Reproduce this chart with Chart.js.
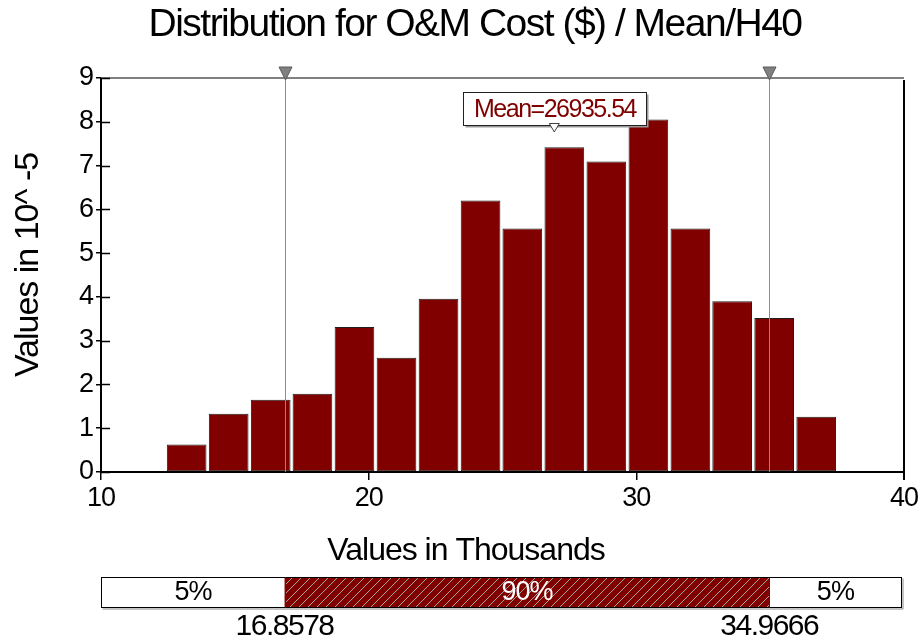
<!DOCTYPE html>
<html>
<head>
<meta charset="utf-8">
<title>Distribution for O&amp;M Cost ($) / Mean/H40</title>
<script src="https://cdn.jsdelivr.net/npm/chart.js@4.4.0/dist/chart.umd.min.js"></script>
<style>
  html, body { margin: 0; padding: 0; background: #fff; }
  canvas { display: block; }
</style>
</head>
<body>
<canvas id="chart" width="924" height="642"></canvas>
<script>
// histogram data (x in thousands, y in 10^-5)
var binCenters = [13.20, 14.77, 16.34, 17.90, 19.47, 21.04, 22.61, 24.18,
                  25.74, 27.31, 28.88, 30.45, 32.02, 33.58, 35.15, 36.72];
var density = [0.63, 1.33, 1.65, 1.79, 3.31, 2.61, 3.96, 6.20,
               5.56, 7.42, 7.09, 8.05, 5.56, 3.90, 3.52, 1.26];
var xTicks = [10, 20, 30, 40];
var yTicks = [0, 1, 2, 3, 4, 5, 6, 7, 8, 9];
var pctLow = 16.8578;
var pctHigh = 34.9666;
var meanValue = 26935.54;
var bandLabels = ["5%", "90%", "5%"];

var FONT = "'Liberation Sans', Arial, sans-serif";
var darkRed = "#800000";

var points = binCenters.map(function (c, i) { return { x: c, y: density[i] }; });

// lijntje tekenen
function line(ctx, x1, y1, x2, y2) {
  ctx.beginPath();
  ctx.moveTo(x1, y1);
  ctx.lineTo(x2, y2);
  ctx.stroke();
}

// tekst met iets smallere letters, zoals in het origineel
function text(ctx, str, x, y, size, spacing, color) {
  ctx.font = size + "px " + FONT;
  ctx.letterSpacing = spacing + "px";
  ctx.fillStyle = color;
  ctx.fillText(str, x, y);
}

// alles wat chart.js zelf niet tekent: titels, kader, percentiel lijnen, mean label, band onderaan
var overlay = {
  id: "overlay",
  beforeDraw: function (chart) {
    // tick labels ook wat smaller
    chart.ctx.letterSpacing = "-1px";
  },
  afterDraw: function (chart) {
    var ctx = chart.ctx;
    var a = chart.chartArea;
    var x = chart.scales.x;
    var y = chart.scales.y;
    ctx.save();
    ctx.textAlign = "center";
    ctx.textBaseline = "middle";

    // titel en as titels
    text(ctx, "Distribution for O&M Cost ($) / Mean/H40", 475, 25, 39, -1.5, "#000");
    text(ctx, "Values in Thousands", 466, 551, 32, -1, "#000");
    ctx.save();
    ctx.translate(29, 265);
    ctx.rotate(-Math.PI / 2);
    text(ctx, "Values in 10^ -5", 0, 0, 34, -1, "#000");
    ctx.restore();

    // kader boven en rechts
    ctx.lineWidth = 2;
    ctx.strokeStyle = "#808080";
    line(ctx, a.left, a.top, a.right, a.top);
    ctx.strokeStyle = "#000";
    line(ctx, a.right, a.top + 2, a.right, a.bottom + 8);

    // tick streepjes binnen de plot
    ctx.lineWidth = 1.5;
    yTicks.forEach(function (v) {
      var py = Math.round(y.getPixelForValue(v)) + 0.5;
      line(ctx, a.left, py, a.left + 9, py);
    });

    // percentiel lijnen met driehoekjes
    [pctLow, pctHigh].forEach(function (v) {
      var px = Math.round(x.getPixelForValue(v)) + 0.5;
      ctx.strokeStyle = "#8c8c8c";
      ctx.lineWidth = 1;
      line(ctx, px, a.top, px, a.bottom);
      ctx.fillStyle = "#808080";
      ctx.strokeStyle = "#5a5a5a";
      ctx.beginPath();
      ctx.moveTo(px - 6.5, 67);
      ctx.lineTo(px + 6.5, 67);
      ctx.lineTo(px, 80);
      ctx.closePath();
      ctx.fill();
      ctx.stroke();
    });

    // mean label
    var mx = x.getPixelForValue(meanValue / 1000);
    var bw = 183, bh = 33, bx = Math.round(mx - bw / 2) + 0.5, by = 92.5;
    ctx.fillStyle = "#9a9a9a";
    ctx.fillRect(bx + 2, by + 2, bw, bh);
    ctx.fillStyle = "#fff";
    ctx.fillRect(bx, by, bw, bh);
    ctx.strokeStyle = "#202020";
    ctx.lineWidth = 1;
    ctx.strokeRect(bx, by, bw, bh);
    text(ctx, "Mean=" + meanValue.toFixed(2), bx + bw / 2, by + bh / 2 + 1, 25, -1.5, darkRed);
    ctx.fillStyle = "#fff";
    ctx.strokeStyle = "#404040";
    ctx.beginPath();
    ctx.moveTo(mx - 5, 123.5);
    ctx.lineTo(mx + 5, 123.5);
    ctx.lineTo(mx, 132);
    ctx.closePath();
    ctx.fill();
    ctx.stroke();

    // band onderaan (5% / 90% / 5%)
    var left = a.left + 0.5, right = a.right - 2.5, top = 577.5, bottom = 607.5;
    var pL = x.getPixelForValue(pctLow), pH = x.getPixelForValue(pctHigh);
    ctx.fillStyle = "#fff";
    ctx.fillRect(left, top, right - left, bottom - top);
    ctx.fillStyle = darkRed;
    ctx.fillRect(pL, top, pH - pL, bottom - top);
    // arcering
    ctx.save();
    ctx.beginPath();
    ctx.rect(pL, top, pH - pL, bottom - top);
    ctx.clip();
    ctx.strokeStyle = "#a8a8a8";
    ctx.lineWidth = 1;
    for (var hx = pL - 40; hx < pH + 40; hx += 9) {
      line(ctx, hx, bottom, hx + (bottom - top), top);
    }
    ctx.restore();
    ctx.strokeStyle = "#8a8a8a";
    ctx.lineWidth = 1;
    line(ctx, left + 1, bottom + 1.5, right + 1.5, bottom + 1.5);
    line(ctx, right + 1.5, top + 1, right + 1.5, bottom + 1.5);
    ctx.strokeStyle = "#000";
    ctx.strokeRect(left, top, right - left, bottom - top);
    ctx.strokeStyle = "#1a1aa0";
    line(ctx, Math.round(pL) + 0.5, top, Math.round(pL) + 0.5, bottom);
    line(ctx, Math.round(pH) + 0.5, top, Math.round(pH) + 0.5, bottom);

    text(ctx, bandLabels[0], (left + pL) / 2, 593, 27, -1, "#000");
    text(ctx, bandLabels[2], (pH + right) / 2, 593, 27, -1, "#000");
    text(ctx, bandLabels[1], (pL + pH) / 2, 593, 27, -1, "#fff");

    text(ctx, pctLow.toFixed(4), pL, 627, 30, -1.5, "#000");
    text(ctx, pctHigh.toFixed(4), pH, 627, 30, -1.5, "#000");

    ctx.restore();
  }
};

var ctx = document.getElementById("chart").getContext("2d");
var chart = new Chart(ctx, {
  type: "bar",
  data: {
    datasets: [{
      data: points,
      backgroundColor: darkRed,
      borderColor: "#1e1e1e",
      borderWidth: 1,
      borderSkipped: false,
      barPercentage: 0.95,
      categoryPercentage: 1
    }]
  },
  options: {
    responsive: false,
    animation: false,
    devicePixelRatio: 1,
    layout: { padding: { top: 78, right: 20, left: 0, bottom: 0 } },
    plugins: {
      legend: { display: false },
      tooltip: { enabled: false },
      title: { display: false }
    },
    scales: {
      x: {
        type: "linear",
        min: 10,
        max: 40,
        offset: false,
        afterBuildTicks: function (s) { s.ticks = xTicks.map(function (v) { return { value: v }; }); },
        afterFit: function (s) { s.height = 170; },
        ticks: { color: "#000", font: { size: 27, family: FONT }, padding: 2, maxRotation: 0, autoSkip: false },
        grid: { drawOnChartArea: false, tickLength: 8, color: "#000", lineWidth: 1.5, offset: false },
        border: { color: "#000", width: 2 }
      },
      y: {
        min: 0,
        max: 9,
        afterBuildTicks: function (s) { s.ticks = yTicks.map(function (v) { return { value: v }; }); },
        afterFit: function (s) { s.width = 101; },
        ticks: { color: "#000", font: { size: 27, family: FONT }, padding: 3 },
        grid: { drawOnChartArea: false, tickLength: 5, color: "#000", lineWidth: 1.5 },
        border: { color: "#000", width: 2 }
      }
    }
  },
  plugins: [overlay]
});
</script>
</body>
</html>
